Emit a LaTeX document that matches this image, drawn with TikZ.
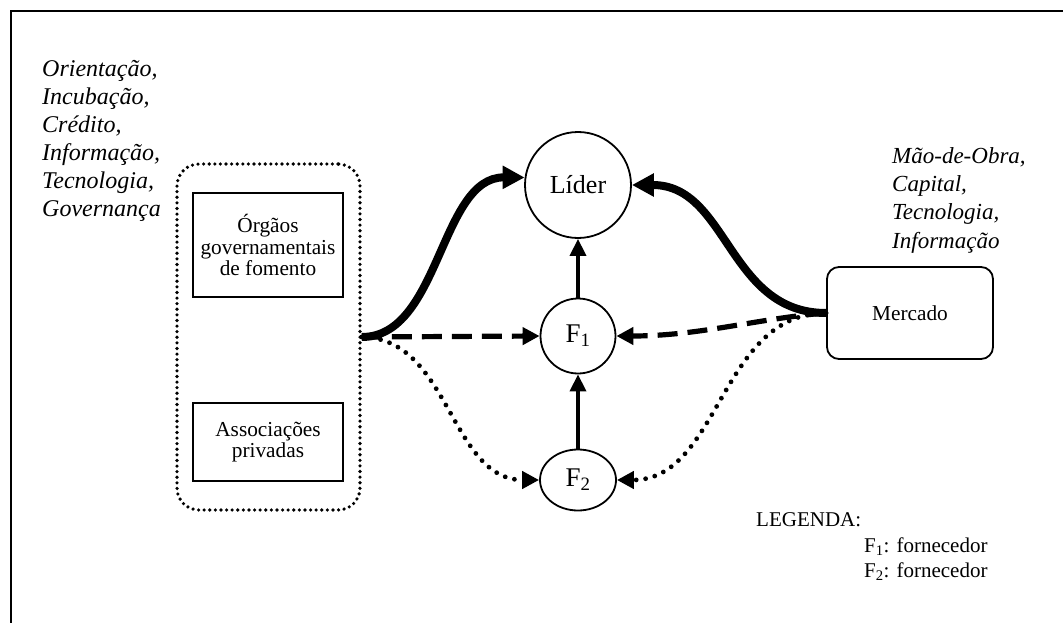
\documentclass[tikz,border=0pt]{standalone}
\usepackage{fontspec}
\setmainfont{Liberation Serif}
\usetikzlibrary{arrows.meta,shapes.geometric}

\tikzset{
  plainbox/.style={draw, line width=1.8pt, inner sep=0pt, align=center,
    font=\fontsize{21.3}{21.8}\selectfont},
  groupbox/.style={draw, line width=3.6pt, line cap=round,
    dash pattern=on 0pt off 5.6pt, rounded corners=22pt},
  actor/.style={draw, line width=1.8pt, inner sep=0pt, fill=white},
  inputs/.style={align=left, inner sep=0pt,
    font=\fontsize{24}{28}\selectfont\itshape},
  heavyflow/.style={line width=8pt,
    -{Triangle[length=22pt,width=22pt]}},
  supply/.style={line width=3.6pt, -{Triangle[length=17pt,width=16pt]}},
  dashflow/.style={line width=5.2pt, dash pattern=on 20pt off 10pt,
    -{Triangle[length=17pt,width=17pt]}},
  dotflow/.style={line width=4.8pt, line cap=round,
    dash pattern=on 0pt off 9.5pt,
    -{Triangle[length=17pt,width=17pt,line cap=butt]}},
  legend/.style={inner sep=0pt, anchor=base west,
    font=\fontsize{21}{25}\selectfont}
}

\begin{document}
\begin{tikzpicture}[x=1pt,y=-1pt]
\useasboundingbox (0,0) rectangle (1063,623);

% frame, top and left sides
\draw[line width=2pt] (11,623) -- (11,11) -- (1063,11);

% support agents
\node[groupbox, minimum width=183pt, minimum height=346pt] (grp) at (268.5,337) {};
\node[plainbox, minimum width=150pt, minimum height=104pt] (org) at (268,245)
  {Órgãos\\governamentais\\de fomento};
\node[plainbox, minimum width=150pt, minimum height=78pt] (assoc) at (268,442)
  {Associações\\privadas};

% firms of the chain
\node[actor, circle, minimum size=106pt,
  font=\fontsize{26}{28}\selectfont] (lider) at (578,185) {Líder};
\node[actor, circle, minimum size=75pt,
  font=\fontsize{27}{30}\selectfont] (f1) at (578,336) {F\textsubscript{1}};
\node[actor, ellipse, minimum width=76pt, minimum height=61pt,
  font=\fontsize{27}{30}\selectfont] (f2) at (578,480) {F\textsubscript{2}};

% market
\node[plainbox, rounded corners=12pt, minimum width=166pt, minimum height=92pt]
  (mer) at (910,313) {Mercado};

% resources offered
\node[inputs, anchor=north west] (govin) at (42,60)
  {Orientação,\\Incubação,\\Crédito,\\Informação,\\Tecnologia,\\Governança};
\node[inputs, anchor=north west, font=\fontsize{23}{28.3}\selectfont\itshape]
  (merin) at (892,147)
  {Mão-de-Obra,\\Capital,\\Tecnologia,\\Informação};

% flows
\draw[heavyflow] (grp.east) .. controls (440,337) and (440,177) .. (lider.172);
\draw[heavyflow] (mer.west) .. controls (728,313) and (728,185) .. (lider.east);
\draw[supply] (f1.north) -- (lider.south);
\draw[supply] (f2.north) -- (f1.south);
\draw[dashflow] (grp.east) -- (f1.west);
\draw[dashflow] (mer.west) .. controls (760,318) and (700,336) .. (f1.east);
\draw[dotflow] (grp.east) .. controls (450,338) and (450,480) .. (f2.west);
\draw[dotflow] (mer.west) .. controls (720,313) and (720,480) .. (f2.east);

% legend
\node[legend] (leg) at (756,526) {LEGENDA:};
\node[legend] (leg1) at (864,552) {F\textsubscript{1}: fornecedor};
\node[legend] (leg2) at (864,577) {F\textsubscript{2}: fornecedor};
\end{tikzpicture}
\end{document}
